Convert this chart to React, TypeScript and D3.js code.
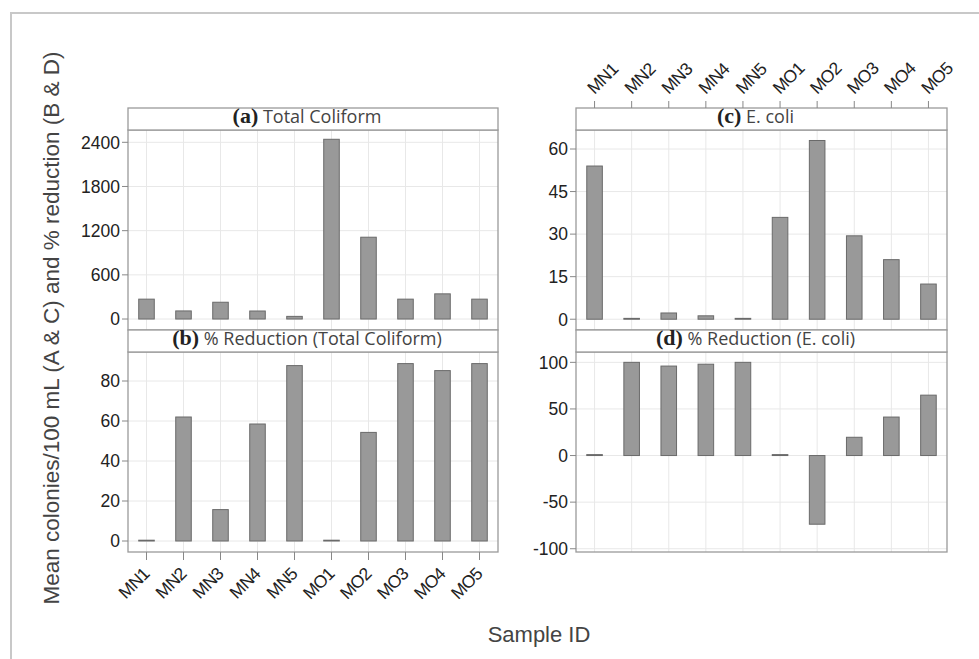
import React from "react";
import * as d3 from "d3";

const samples = ["MN1", "MN2", "MN3", "MN4", "MN5", "MO1", "MO2", "MO3", "MO4", "MO5"];
const totalColiform = [270, 110, 228, 109, 36, 2441, 1111, 270, 342, 270];
const reductionTC = [0.4, 62, 15.7, 58.5, 87.7, 0.4, 54.3, 88.7, 85.2, 88.7];
const eColi = [54.0, 0.3, 2.2, 1.2, 0.3, 35.9, 63.0, 29.4, 21.0, 12.4];
const reductionEC = [1, 100, 96, 98, 100, 1, -73.7, 19.6, 41.3, 64.8];

const ticksA = [0, 600, 1200, 1800, 2400];
const ticksB = [0, 20, 40, 60, 80];
const ticksC = [0, 15, 30, 45, 60];
const ticksD = [-100, -50, 0, 50, 100];

const yTitle = "Mean colonies/100 mL (A & C) and % reduction (B & D)";
const xTitle = "Sample ID";

type PanelDef = {
  letter: string;
  title: string;
  values: number[];
  ticks: number[];
  domain: [number, number];
  x0: number;
  x1: number;
  hTop: number;
  pTop: number;
  pBot: number;
  bottomLabels?: boolean;
  topLabels?: boolean;
};

const W = 979;
const H = 659;
const SANS = "'Liberation Sans', Arial, sans-serif";

function Panel({ p }: { p: PanelDef }) {
  const xs = d3.scaleBand<string>().domain(samples).range([p.x0, p.x1]);
  const y = d3.scaleLinear().domain(p.domain).range([p.pBot, p.pTop]);
  const cx = (s: string) => (xs(s) as number) + xs.bandwidth() / 2;
  const bw = xs.bandwidth() * 0.42;
  return (
    <g>
      {samples.map((s) => (
        <line key={"gv" + s} x1={cx(s)} x2={cx(s)} y1={p.pTop} y2={p.pBot} stroke="#e8e8e8" strokeWidth={1} />
      ))}
      {p.ticks.map((t) => (
        <line key={"gh" + t} x1={p.x0} x2={p.x1} y1={y(t)} y2={y(t)} stroke="#e8e8e8" strokeWidth={1} />
      ))}
      {samples.map((s, i) => {
        const v = p.values[i];
        const y0 = y(0);
        const y1 = y(v);
        return (
          <rect
            key={"b" + s}
            x={cx(s) - bw / 2}
            y={Math.min(y0, y1)}
            width={bw}
            height={Math.max(Math.abs(y1 - y0), 0.5)}
            fill="#999999"
            stroke="#6a6a6a"
            strokeWidth={1}
          />
        );
      })}
      <rect x={p.x0} y={p.pTop} width={p.x1 - p.x0} height={p.pBot - p.pTop} fill="none" stroke="#9a9a9a" strokeWidth={1.3} />
      <rect x={p.x0} y={p.hTop} width={p.x1 - p.x0} height={p.pTop - p.hTop} fill="#fff" stroke="#9a9a9a" strokeWidth={1.3} />
      <text x={(p.x0 + p.x1) / 2 - 6} y={p.pTop - 7} textAnchor="middle" fill="#444">
        <tspan fontFamily="'Liberation Serif', serif" fontWeight="bold" fontSize={22} fill="#222">{p.letter}</tspan>
        <tspan fontFamily="'Open Sans', sans-serif" fontSize={18}>{" " + p.title}</tspan>
      </text>
      {p.ticks.map((t) => (
        <g key={"yt" + t}>
          <line x1={p.x0 - 6} x2={p.x0} y1={y(t)} y2={y(t)} stroke="#888" strokeWidth={1} />
          <text x={p.x0 - 8} y={y(t)} dy="0.36em" textAnchor="end" fontFamily={SANS} fontSize={17.5} fill="#222">
            {t}
          </text>
        </g>
      ))}
      {p.bottomLabels &&
        samples.map((s) => (
          <g key={"xb" + s}>
            <line x1={cx(s)} x2={cx(s)} y1={p.pBot} y2={p.pBot + 8} stroke="#888" strokeWidth={1} />
            <text
              transform={`translate(${cx(s) + 4},${p.pBot + 23}) rotate(-45)`}
              textAnchor="end"
              fontFamily={SANS}
              fontSize={17.5}
              letterSpacing={-0.7}
              fill="#222"
            >
              {s}
            </text>
          </g>
        ))}
      {p.topLabels &&
        samples.map((s) => (
          <g key={"xt" + s}>
            <line x1={cx(s)} x2={cx(s)} y1={p.hTop - 7} y2={p.hTop} stroke="#888" strokeWidth={1} />
            <text
              transform={`translate(${cx(s)},${p.hTop - 13}) rotate(-45)`}
              textAnchor="start"
              fontFamily={SANS}
              fontSize={17.5}
              letterSpacing={-0.7}
              fill="#222"
            >
              {s}
            </text>
          </g>
        ))}
    </g>
  );
}

export default function App() {
  const panels: PanelDef[] = [
    { letter: "(a)", title: "Total Coliform", values: totalColiform, ticks: ticksA, domain: [-149, 2567], x0: 128, x1: 498, hTop: 108, pTop: 130, pBot: 330 },
    { letter: "(b)", title: "% Reduction (Total Coliform)", values: reductionTC, ticks: ticksB, domain: [-5.5, 94.5], x0: 128, x1: 498, hTop: 330, pTop: 352, pBot: 552, bottomLabels: true },
    { letter: "(c)", title: "E. coli", values: eColi, ticks: ticksC, domain: [-3.8, 66.7], x0: 576, x1: 947, hTop: 108, pTop: 130, pBot: 330, topLabels: true },
    { letter: "(d)", title: "% Reduction (E. coli)", values: reductionEC, ticks: ticksD, domain: [-103.5, 111.1], x0: 576, x1: 947, hTop: 330, pTop: 352, pBot: 552 },
  ];
  return (
    <div style={{ position: "absolute", left: 0, top: 0 }}>
      <svg width={W} height={H} style={{ display: "block", background: "#fff" }}>
        <rect x={0} y={0} width={W} height={H} fill="#fff" />
        <rect x={11} y={13} width={W + 20} height={H + 20} fill="none" stroke="#c8c8c8" strokeWidth={2} />
        {panels.map((p) => (
          <Panel key={p.letter} p={p} />
        ))}
        <text transform="translate(59,328) rotate(-90)" textAnchor="middle" fontFamily={SANS} fontSize={22.5} fill="#444">
          {yTitle}
        </text>
        <text x={539} y={642} textAnchor="middle" fontFamily={SANS} fontSize={22} fill="#444">
          {xTitle}
        </text>
      </svg>
    </div>
  );
}
